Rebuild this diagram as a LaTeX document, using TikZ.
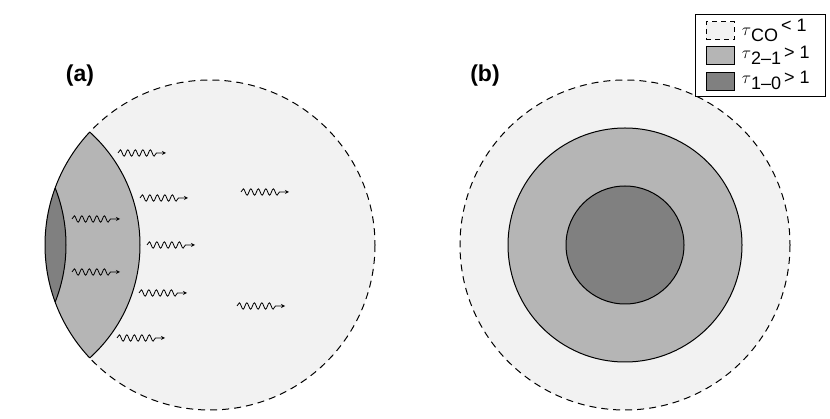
\documentclass[tikz,border=0pt]{standalone}
\usepackage{fontspec}
\setmainfont{Liberation Sans}
\usetikzlibrary{decorations.pathmorphing}
\definecolor{cloudgray}{gray}{0.95}
\definecolor{midgray}{gray}{0.71}
\definecolor{darkgray}{gray}{0.5}
\tikzset{
  photon/.style={decorate,decoration={snake,amplitude=3.2pt,segment length=7.5pt,post length=6pt},-stealth,line width=0.8pt},
  swatch/.style={draw,minimum width=28pt,minimum height=18pt,inner sep=0pt},
  panel/.style={font=\bfseries\fontsize{23}{23}\selectfont},
  legtext/.style={anchor=west,font=\fontsize{18}{18}\selectfont},
  cloudline/.style={dash pattern=on 7pt off 5pt}
}
\begin{document}
\begin{tikzpicture}[x=1pt,y=-1pt,line width=1pt]
  \useasboundingbox (0,0) rectangle (830,419);
  % panel (a)
  \fill[cloudgray] (210,245) circle (165);
  \scope
  \clip (210,245) circle (165);
  \fill[midgray] (-12,245) circle (152);
  \fill[darkgray] (-89,245) circle (155);
  \draw (-12,245) circle (152);
  \draw (-89,245) circle (155);
  \endscope
  \scope
  \clip (-12,245) circle (152);
  \draw (210,245) circle (165);
  \endscope
  \scope
  \clip (-12,245) circle (152) (0,0) rectangle (830,419);
  \draw[cloudline] (210,245) circle (165);
  \endscope
  % photons
  \foreach \n/\x/\y in {1/118/153,2/140/198,3/72/219,4/147/245,5/72/272,6/139/293,7/117/338,8/241/192,9/237/306}{
    \coordinate (p\n a) at (\x,\y);
    \coordinate (p\n b) at (\x+48,\y);
    \draw[photon] (p\n a) -- (p\n b);
  }
  \node[panel] (la) at (80,76) {(a)};
  % panel (b)
  \draw[fill=cloudgray,cloudline] (625,245) circle (165);
  \draw[fill=midgray] (625,245) circle (117);
  \draw[fill=darkgray] (625,245) circle (59);
  \node[panel] (lb) at (485,76) {(b)};
  % legend
  \draw[fill=white] (695,15) rectangle (825,97);
  \node[swatch,fill=cloudgray,dash pattern=on 5pt off 4pt] (s1) at (720,31) {};
  \node[swatch,fill=midgray] (s2) at (720,56) {};
  \node[swatch,fill=darkgray] (s3) at (720,82) {};
  \node[legtext] (t1) at (738,30) {$\tau$\raisebox{-6pt}{CO}\,\raisebox{4pt}{< 1}};
  \node[legtext] (t2) at (738,55) {$\tau$\raisebox{-6pt}{2–1}\,> 1};
  \node[legtext] (t3) at (738,80) {$\tau$\raisebox{-6pt}{1–0}\,> 1};
\end{tikzpicture}
\end{document}
